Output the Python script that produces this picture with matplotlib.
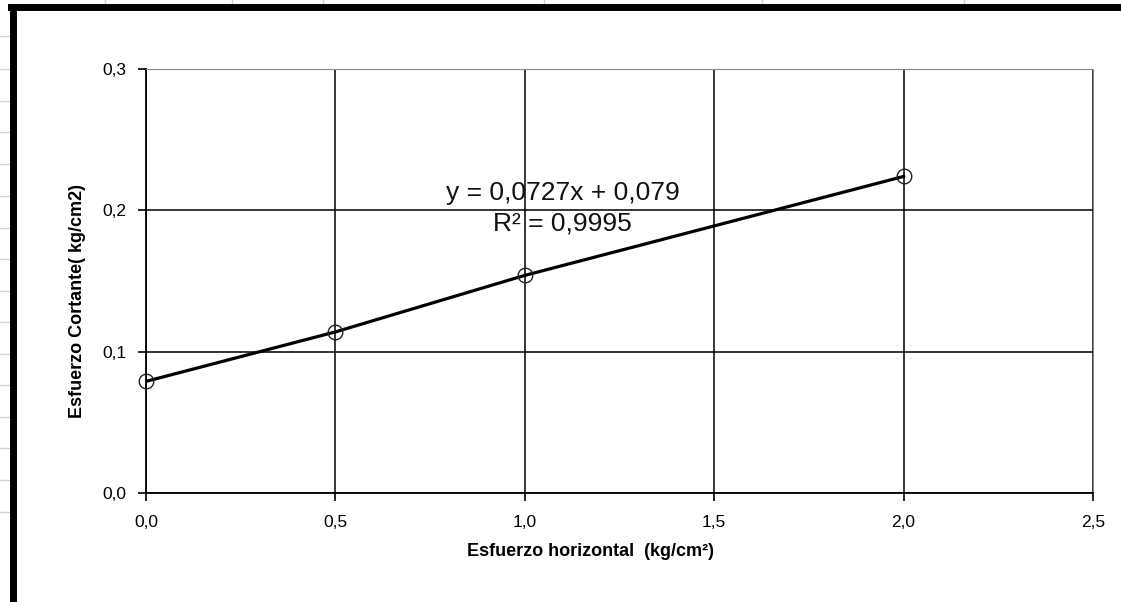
import matplotlib.pyplot as plt
from matplotlib.lines import Line2D

plt.rcParams['font.family'] = ['Liberation Sans', 'DejaVu Sans']

# datos
esfuerzo_horizontal = [0.0, 0.5, 1.0, 2.0]
esfuerzo_cortante = [0.079, 0.114, 0.154, 0.224]
pendiente = 0.0727
intercepto = 0.079
r2 = 0.9995

x_ticks = [0.0, 0.5, 1.0, 1.5, 2.0, 2.5]
y_ticks = [0.0, 0.1, 0.2, 0.3]

fig = plt.figure(figsize=(11.21, 6.02), dpi=100)

# cuadricula de la hoja de calculo por detras
for y in [0.94, 0.885, 0.833, 0.78, 0.727, 0.675, 0.622, 0.57, 0.517, 0.465, 0.412, 0.36, 0.307, 0.255, 0.202, 0.15]:
    fig.add_artist(Line2D([0, 0.009], [y, y], color='#c8d4e8', lw=1))
for x in [0.094, 0.207, 0.288, 0.485, 0.68, 0.86]:
    fig.add_artist(Line2D([x, x], [0.988, 1.0], color='#c8d4e8', lw=1))
# borde grueso del area del grafico
fig.add_artist(Line2D([0.012, 0.012], [0.0, 0.988], color='black', lw=5))
fig.add_artist(Line2D([0.010, 1.0], [0.988, 0.988], color='black', lw=5))

ax = fig.add_axes([0.1302, 0.181, 0.8448, 0.7043])

ax.plot(esfuerzo_horizontal, esfuerzo_cortante, color='black', lw=2.3, zorder=3)
ax.plot(esfuerzo_horizontal, esfuerzo_cortante, 'o', ms=10.5, mfc='none', mec='#222222',
        mew=1.0, zorder=4, clip_on=False)

ax.set_xlim(0, 2.5)
ax.set_ylim(0, 0.3)
ax.set_xticks(x_ticks)
ax.set_yticks(y_ticks)
ax.set_xticklabels([f'{v:.1f}'.replace('.', ',') for v in x_ticks])
ax.set_yticklabels([f'{v:.1f}'.replace('.', ',') for v in y_ticks])
ax.tick_params(direction='out', length=6, width=1.2, labelsize=12.5, colors='black', pad=8)
ax.tick_params(axis='x', pad=10)
ax.grid(True, color='black', lw=1.1)
ax.set_axisbelow(True)

for s in ['left', 'bottom']:
    ax.spines[s].set_linewidth(1.3)
ax.spines['top'].set_color('#888888')
ax.spines['right'].set_color('#888888')

ax.set_xlabel('Esfuerzo horizontal  (kg/cm²)', fontsize=13, fontweight='bold')
ax.set_ylabel('Esfuerzo Cortante( kg/cm2)', fontsize=13, fontweight='bold')
ax.xaxis.set_label_coords(0.469, -0.118)
ax.yaxis.set_label_coords(-0.063, 0.453)

ecuacion = f'y = {pendiente:.4f}x + {intercepto:.3f}'.replace('.', ',')
r2_txt = f'R² = {r2:.4f}'.replace('.', ',')
ax.text(1.1, 0.2125, ecuacion, fontsize=19, ha='center', va='center', color='#111111', zorder=5)
ax.text(1.1, 0.1905, r2_txt, fontsize=19, ha='center', va='center', color='#111111', zorder=5)

fig.savefig('out.png', dpi=100)
